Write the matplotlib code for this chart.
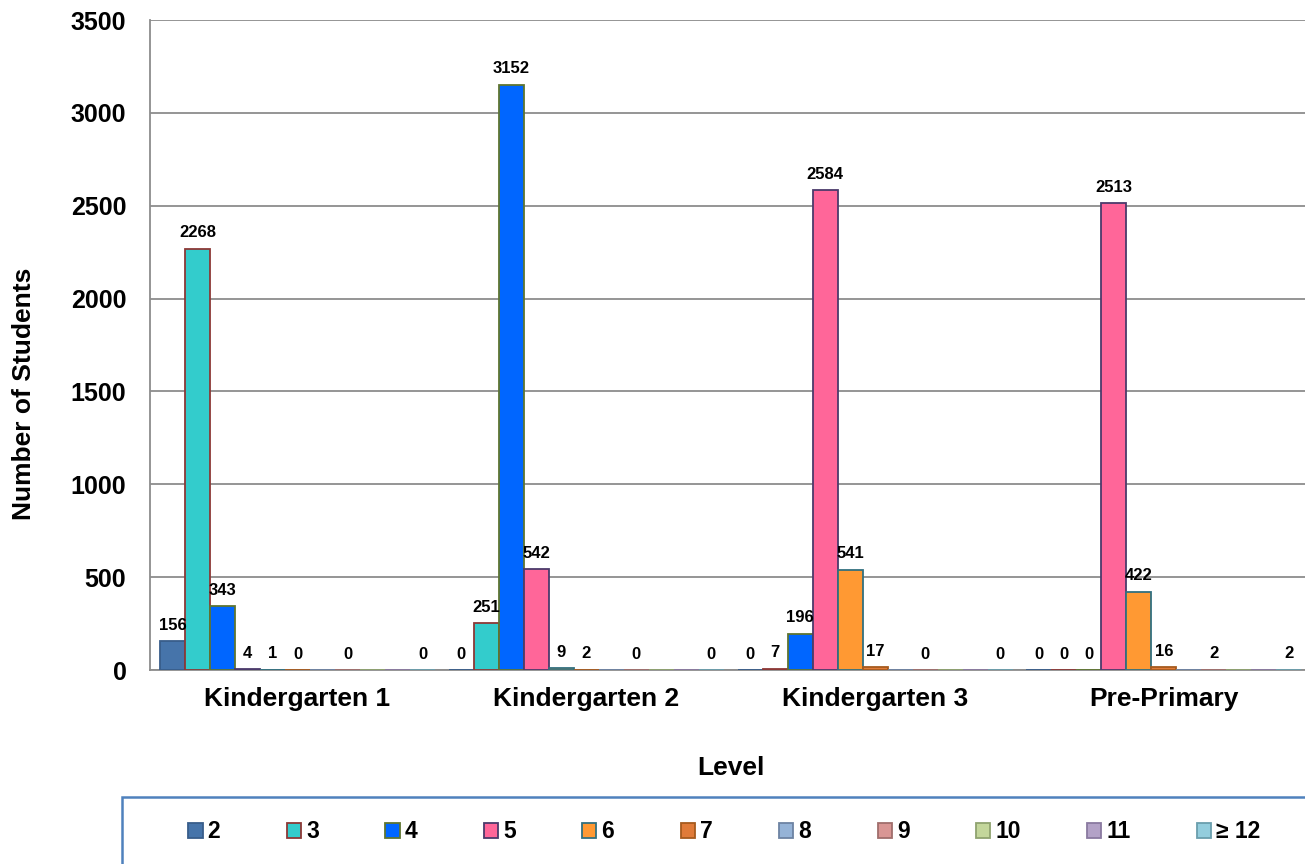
import numpy as np
import matplotlib.pyplot as plt
from matplotlib.patches import Rectangle

plt.rcParams['font.family'] = ['Liberation Sans', 'DejaVu Sans']

# data
levels = ['Kindergarten 1', 'Kindergarten 2', 'Kindergarten 3', 'Pre-Primary']
ages = ['2', '3', '4', '5', '6', '7', '8', '9', '10', '11', '\u2265 12']

age_2 = [156, 0, 0, 0]
age_3 = [2268, 251, 7, 0]
age_4 = [343, 3152, 196, 0]
age_5 = [4, 542, 2584, 2513]
age_6 = [1, 9, 541, 422]
age_7 = [0, 2, 17, 16]
age_8 = [0, 0, 0, 2]
age_9 = [0, 0, 0, 2]
age_10 = [0, 0, 0, 0]
age_11 = [0, 0, 0, 0]
age_12 = [0, 0, 0, 2]

series = [age_2, age_3, age_4, age_5, age_6, age_7, age_8, age_9, age_10, age_11, age_12]
# series whose data labels are shown
labelled = [True, True, True, True, True, True, False, True, False, False, True]

fills = ['#4674AA', '#33CCCC', '#0066FF', '#FF6699', '#FF9933', '#E07B39',
         '#95B3D7', '#D99694', '#C3D69B', '#B3A2C7', '#93CDDD']
edges = ['#385D8A', '#8C3836', '#5F7530', '#4B3A6B', '#31707F', '#A65A1E',
         '#6D83A3', '#A06E6C', '#8FA36F', '#8A7AA0', '#6A9EAD']

fig = plt.figure(figsize=(13.05, 8.64), dpi=100)
ax = fig.add_axes([150 / 1305, 1 - 670 / 864, 1 - 150 / 1305, 650 / 864])

x = np.arange(len(levels))
w = 0.0866
n = len(series)
handles = []
for i, vals in enumerate(series):
    pos = x + (i - (n - 1) / 2) * w
    b = ax.bar(pos, vals, w, color=fills[i], edgecolor=edges[i], linewidth=1.3,
               label=ages[i], zorder=3)
    handles.append(b)
    if labelled[i]:
        for px, v in zip(pos, vals):
            ax.annotate(str(v), (px, v), xytext=(0, 6), textcoords='offset points',
                        ha='center', va='bottom', fontsize=12, fontweight='bold',
                        zorder=4)

ax.set_xlim(-0.511, 3.489)
ax.set_ylim(0, 3500)
ax.set_yticks(np.arange(0, 3501, 500))
ax.set_xticks(x)
ax.set_xticklabels(levels, fontsize=19, fontweight='bold')
ax.tick_params(axis='y', length=0, labelsize=18, pad=17)
ax.tick_params(axis='x', length=0, pad=12)
for t in ax.get_yticklabels():
    t.set_fontweight('bold')
ax.yaxis.grid(True, color='#8C8C8C', linewidth=1.3, zorder=0)
for s in ['top', 'right']:
    ax.spines[s].set_visible(False)
for s in ['left', 'bottom']:
    ax.spines[s].set_color('#8C8C8C')
    ax.spines[s].set_linewidth(1.3)

fig.text(24 / 1305, 1 - 394 / 864, 'Number of Students', rotation=90, ha='center',
         va='center', fontsize=19, fontweight='bold')
fig.text(731 / 1305, 1 - 768 / 864, 'Level', ha='center', va='center',
         fontsize=19, fontweight='bold')

# legend box
fig.patches.append(Rectangle((122 / 1305, -0.01), 1, (864 - 797) / 864 + 0.01,
                             transform=fig.transFigure, fill=False,
                             edgecolor='#4F81BD', linewidth=1.8))
leg = fig.legend(handles=handles, labels=ages, loc='center', ncol=11,
                 bbox_to_anchor=(724.5 / 1305, 1 - 832 / 864), frameon=False,
                 handlelength=0.62, handleheight=0.62, handletextpad=0.22,
                 columnspacing=2.9, prop={'weight': 'bold', 'size': 16.5})

fig.savefig('out.png', dpi=100)
